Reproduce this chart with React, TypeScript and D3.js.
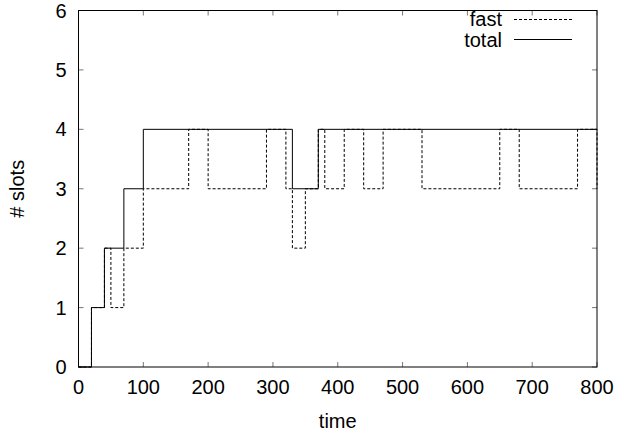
import React from "react";
import * as d3 from "d3";

// step data: [time, slots], value holds until next point
const totalSteps: [number, number][] = [
  [0, 0], [20, 1], [40, 2], [70, 3], [100, 4], [330, 3], [370, 4], [800, 4],
];
const fastSteps: [number, number][] = [
  [0, 0], [20, 1], [40, 2], [50, 1], [70, 2], [100, 3], [170, 4], [200, 3],
  [290, 4], [320, 3], [330, 2], [350, 3], [370, 4], [380, 3], [410, 4],
  [440, 3], [470, 4], [530, 3], [650, 4], [680, 3], [770, 4], [800, 3],
];
const xTicks = [0, 100, 200, 300, 400, 500, 600, 700, 800];
const yTicks = [0, 1, 2, 3, 4, 5, 6];

const W = 619;
const H = 435;
const m = { left: 78.5, right: 22, top: 10.5, bottom: 68 };
const font = "'Liberation Sans', Arial, Helvetica, sans-serif";
const fs = 20;

const App = () => {
  const x = d3.scaleLinear().domain([0, 800]).range([m.left, W - m.right]);
  const y = d3.scaleLinear().domain([0, 6]).range([H - m.bottom, m.top]);
  const stepLine = d3
    .line<[number, number]>()
    .x((d) => x(d[0]))
    .y((d) => y(d[1]))
    .curve(d3.curveStepAfter);

  const x0 = x(0), x1 = x(800), y0 = y(0), y1 = y(6);
  const tick = 5;

  return (
    <svg
      width={W}
      height={H}
      style={{ position: "absolute", left: 0, top: 0, background: "#fff" }}
      fontFamily={font}
    >
      {/* ticks, mirrored on all sides */}
      <g stroke="#777" strokeWidth={1}>
        {xTicks.map((t) => (
          <g key={"xt" + t}>
            <line x1={x(t)} x2={x(t)} y1={y0} y2={y0 - tick} />
            <line x1={x(t)} x2={x(t)} y1={y1} y2={y1 + tick} />
          </g>
        ))}
        {yTicks.map((t) => (
          <g key={"yt" + t}>
            <line x1={x0} x2={x0 + tick} y1={y(t)} y2={y(t)} />
            <line x1={x1} x2={x1 - tick} y1={y(t)} y2={y(t)} />
          </g>
        ))}
      </g>

      <g fontSize={fs} fill="#000">
        {xTicks.map((t) => (
          <text key={"xl" + t} x={x(t)} y={y0 + 27} textAnchor="middle">
            {t}
          </text>
        ))}
        {yTicks.map((t) => (
          <text key={"yl" + t} x={x0 - 12} y={y(t)} textAnchor="end" dy="0.35em">
            {t}
          </text>
        ))}
        <text x={(x0 + x1) / 2} y={H - 7} textAnchor="middle">
          time
        </text>
        <text
          transform={`translate(24,${(y0 + y1) / 2}) rotate(-90)`}
          textAnchor="middle"
        >
          # slots
        </text>
      </g>

      <path
        d={stepLine(fastSteps) || ""}
        fill="none"
        stroke="#000"
        strokeWidth={1}
        strokeDasharray="3,2"
      />
      <path d={stepLine(totalSteps) || ""} fill="none" stroke="#000" strokeWidth={1} />

      {/* legend */}
      <g fontSize={fs}>
        <text x={502} y={26} textAnchor="end">fast</text>
        <line x1={514} x2={572} y1={19.5} y2={19.5} stroke="#000" strokeDasharray="3,2" />
        <text x={502} y={46.5} textAnchor="end">total</text>
        <line x1={514} x2={572} y1={39.5} y2={39.5} stroke="#000" />
      </g>

      <rect
        x={x0}
        y={y1}
        width={x1 - x0}
        height={y0 - y1}
        fill="none"
        stroke="#000"
        strokeWidth={1}
      />
    </svg>
  );
};

export default App;
